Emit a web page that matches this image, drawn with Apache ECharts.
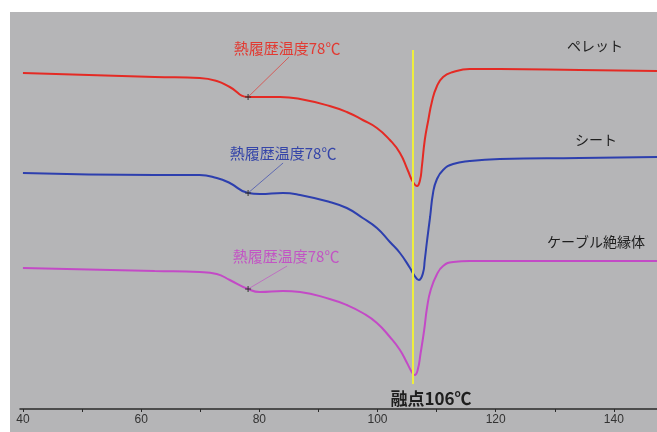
<!DOCTYPE html>
<html>
<head>
<meta charset="utf-8">
<script src="https://cdn.jsdelivr.net/npm/echarts@6/dist/echarts.min.js"></script>
<style>
  html, body { margin: 0; padding: 0; background: #fff; }
  #chart { width: 657px; height: 432px; }
</style>
</head>
<body>
<div id="chart"></div>
<script>
// DSC heating curves: [temperature ℃, heat flow (a.u.)]
const pelletCurve = [
  [40.0, 336], [62.3, 332], [69.9, 331], [72.8, 328], [75.0, 322], [78.1, 312],
  [80.1, 312], [83.5, 312], [86.9, 310], [91.9, 303], [94.8, 297], [97.5, 289],
  [99.9, 281], [102.1, 269], [103.8, 256], [105.1, 239], [106.0, 227], [106.7, 223],
  [107.2, 229], [107.5, 242], [108.0, 269], [108.6, 289], [109.2, 307], [110.0, 322],
  [111.1, 332], [112.8, 337], [115.6, 340], [120.7, 340], [134.2, 339], [147.3, 338]
];
const sheetCurve = [
  [40.0, 236], [62.3, 234], [69.9, 234], [72.8, 231], [75.0, 226], [78.1, 216],
  [80.1, 215], [84.0, 216], [86.9, 214], [91.9, 207], [94.8, 201], [97.5, 191],
  [99.9, 181], [102.1, 167], [103.8, 156], [105.5, 141], [106.3, 133], [107.0, 129],
  [107.7, 136], [108.0, 149], [108.4, 169], [108.9, 192], [109.4, 216], [110.0, 229],
  [111.1, 239], [112.8, 245], [115.6, 248], [120.7, 250], [134.2, 251], [147.3, 252]
];
const cableCurve = [
  [40.0, 141], [62.3, 138], [69.9, 137], [72.8, 135], [75.0, 129], [78.1, 120],
  [80.1, 117], [84.0, 118], [86.9, 117], [91.9, 110], [94.8, 104], [97.5, 96],
  [99.9, 86], [102.1, 72], [103.8, 59], [105.0, 46], [105.8, 37], [106.3, 34],
  [106.8, 39], [107.3, 56], [107.9, 79], [108.4, 102], [109.0, 119], [110.0, 134],
  [111.1, 143], [112.8, 147], [115.6, 148], [120.7, 148], [134.2, 148], [147.3, 148]
];

const sampleNames = ['ペレット', 'シート', 'ケーブル絶縁体'];
const transitionTemp = 78;   // thermal history temperature ℃
const meltingPoint = 106;    // melting point ℃
const majorTicks = [40, 60, 80, 100, 120, 140];
const allTicks = [40, 50, 60, 70, 80, 90, 100, 110, 120, 130, 140];
const xRange = [39.5, 147.3];
const yRange = [0, 397];
const meltLineSpan = [25, 359];

const colors = ['#e42a24', '#2d3fae', '#c34ac6'];
const textColors = ['#e23a32', '#3545a8', '#c255c4'];
const jpFont = '"Noto Sans CJK JP", "Noto Sans", sans-serif';

function pointAt(curve, t) {
  return curve.reduce((best, p) => Math.abs(p[0] - t) < Math.abs(best[0] - t) ? p : best, curve[0]);
}

// Annotation: "+" marker on the curve, a leader line and the thermal-history label
function annotationRenderer(idx, lineEnd, labelPos) {
  return function (params, api) {
    const p = api.coord([api.value(0), api.value(1)]);
    return {
      type: 'group',
      children: [
        { type: 'line', shape: { x1: p[0], y1: p[1], x2: p[0] + lineEnd[0], y2: p[1] + lineEnd[1] },
          style: { stroke: colors[idx], lineWidth: 0.8, opacity: 0.8 } },
        { type: 'line', shape: { x1: p[0] - 3, y1: p[1], x2: p[0] + 3, y2: p[1] },
          style: { stroke: '#333', lineWidth: 1 } },
        { type: 'line', shape: { x1: p[0], y1: p[1] - 3, x2: p[0], y2: p[1] + 3 },
          style: { stroke: '#333', lineWidth: 1 } },
        { type: 'text', x: p[0] + labelPos[0], y: p[1] + labelPos[1],
          style: { text: '熱履歴温度' + transitionTemp + '℃', fill: textColors[idx],
                   font: '15px ' + jpFont, align: 'center', verticalAlign: 'middle' } }
      ]
    };
  };
}

const curves = [pelletCurve, sheetCurve, cableCurve];
const leaderEnds = [[41, -40], [35, -30], [39, -23]];
const labelOffsets = [[39, -49], [35, -40], [38, -33]];

const lineSeries = curves.map((c, i) => ({
  type: 'line',
  name: sampleNames[i],
  data: c,
  smooth: 0.5,
  showSymbol: false,
  lineStyle: { color: colors[i], width: 2 },
  z: 3
}));

const annotationSeries = curves.map((c, i) => ({
  type: 'custom',
  data: [pointAt(c, transitionTemp)],
  renderItem: annotationRenderer(i, leaderEnds[i], labelOffsets[i]),
  clip: false,
  silent: true,
  z: 4
}));

// Melting point marker line
lineSeries[1].markLine = {
  silent: true,
  symbol: 'none',
  animation: false,
  lineStyle: { color: '#eeee3c', width: 2, type: 'solid' },
  label: {
    show: true,
    position: 'end',
    distance: 6,
    offset: [18, 0],
    formatter: '融点' + meltingPoint + '℃',
    fontFamily: jpFont,
    fontSize: 17,
    fontWeight: 'bold',
    color: '#1e1e1e'
  },
  data: [[{ coord: [meltingPoint, meltLineSpan[1]] }, { coord: [meltingPoint, meltLineSpan[0]] }]]
};

const nameLabelPos = [[595, 46], [596, 140], [596, 242]];

const chart = echarts.init(document.getElementById('chart'));
chart.setOption({
  animation: false,
  backgroundColor: '#ffffff',
  graphic: [
    { type: 'rect', left: 10, top: 12, shape: { width: 647, height: 420 },
      style: { fill: '#b5b5b7' }, z: -100, silent: true }
  ].concat(sampleNames.map((n, i) => ({
    type: 'text', x: nameLabelPos[i][0], y: nameLabelPos[i][1], z: 10,
    style: { text: n, fill: '#1e1e1e', font: '14px ' + jpFont, align: 'center', verticalAlign: 'middle' }
  }))),
  grid: { left: 20, right: 0, top: 12, bottom: 23, outerBoundsMode: 'none' },
  xAxis: {
    type: 'value',
    min: xRange[0],
    max: xRange[1],
    name: '温度/℃',
    nameLocation: 'middle',
    nameGap: 25,
    nameTextStyle: { color: '#333', fontSize: 12, fontFamily: jpFont },
    axisLine: { show: true, onZero: false, lineStyle: { color: '#2a2a2a', width: 1.5 } },
    axisTick: { show: true, customValues: allTicks, length: 3, lineStyle: { color: '#2a2a2a' } },
    axisLabel: { customValues: majorTicks, margin: 5, color: '#333', fontSize: 12,
                 fontFamily: '"Liberation Sans", Arial, sans-serif' },
    splitLine: { show: false }
  },
  yAxis: {
    type: 'value',
    min: yRange[0],
    max: yRange[1],
    show: false,
    splitLine: { show: false }
  },
  series: lineSeries.concat(annotationSeries)
});
</script>
</body>
</html>
